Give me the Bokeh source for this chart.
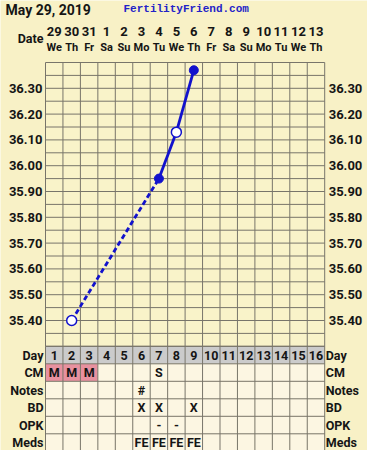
from bokeh.plotting import figure
from bokeh.models import Range1d
from bokeh.core.properties import value
from bokeh.embed import file_html
from bokeh.resources import INLINE

# ---------------- data ----------------
title_text = "May 29, 2019"
site_text = "FertilityFriend.com"
day_numbers = list(range(1, 17))
date_labels = ["29", "30", "31", "1", "2", "3", "4", "5", "6", "7", "8", "9", "10", "11", "12", "13"]
weekday_labels = ["We", "Th", "Fr", "Sa", "Su", "Mo", "Tu", "We", "Th", "Fr", "Sa", "Su", "Mo", "Tu", "We", "Th"]
temp_days = [2, 7, 8, 9]
temp_values = [35.40, 35.95, 36.13, 36.37]
temp_open = [True, False, True, False]
temp_ticks = [35.40, 35.50, 35.60, 35.70, 35.80, 35.90, 36.00, 36.10, 36.20, 36.30]
row_names = ["Day", "CM", "Notes", "BD", "OPK", "Meds"]
cm_values = ["M", "M", "M", "", "", "", "S", "", "", "", "", "", "", "", "", ""]
cm_colored = [True, True, True] + [False] * 13
notes_values = ["", "", "", "", "", "#", "", "", "", "", "", "", "", "", "", ""]
bd_values = ["", "", "", "", "", "X", "X", "", "X", "", "", "", "", "", "", ""]
opk_values = ["", "", "", "", "", "", "-", "-", "", "", "", "", "", "", "", ""]
meds_values = ["", "", "", "", "", "FE", "FE", "FE", "FE", "", "", "", "", "", "", ""]

# ---------------- layout ----------------
W, H = 367, 450
COL = 17.45      # px per day
PPU = 258.0      # px per degree
ROW = 17.5       # px per table row
GL = 45          # grid left (figure px)
GT = 62          # grid top (figure px)
T_TOP, T_BOT = 36.40, 35.30
TBL_TOP = GT + (T_TOP - T_BOT) * PPU

BG = "#f8f1c6"
PLOT_BG = "#f9f3c9"
CELL_BG = "#fcf6e2"
DAY_BG = "#cbcbcb"
PINK = "#e8919f"
GRID = "#78756a"
BLUE = "#1212cc"
TXT = "#151515"
FONT = value("Roboto")

x0 = 0.5 - GL / COL
p = figure(width=W, height=H, output_backend="svg", toolbar_location=None,
           x_range=Range1d(x0, x0 + W / COL),
           y_range=Range1d(T_TOP - (H - GT) / PPU, T_TOP + GT / PPU),
           min_border=0, outline_line_color=None)
p.extra_y_ranges = {"tbl": Range1d(start=(H - TBL_TOP) / ROW, end=-TBL_TOP / ROW)}
p.axis.visible = False
p.grid.visible = False
p.background_fill_color = BG
p.border_fill_color = BG


def dx(px):
    return px / COL


def hv(fig_py):
    return (fig_py - TBL_TOP) / ROW


first, last = day_numbers[0] - 0.5, day_numbers[-1] + 0.5

# temperature area background
p.quad(left=[first], right=[last], bottom=[T_BOT], top=[T_TOP], fill_color=PLOT_BG, line_color=None)

# table cells
cx, cy, cc = [], [], []
for r in range(len(row_names)):
    for i, d in enumerate(day_numbers):
        cx.append(d)
        cy.append(r + 0.5)
        if r == 0:
            cc.append(DAY_BG)
        elif r == 1 and cm_colored[i]:
            cc.append(PINK)
        else:
            cc.append(CELL_BG)
p.rect(x=cx, y=cy, width=1, height=1, fill_color=cc, line_color=None, y_range_name="tbl")

# grid lines: temperature area
nh = int(round((T_TOP - T_BOT) / 0.05))
hy = [T_BOT + 0.05 * k for k in range(nh + 1)]
p.segment(x0=[first] * len(hy), x1=[last] * len(hy), y0=hy, y1=hy, line_color=GRID, line_width=1)
vx = [d - 0.5 for d in day_numbers] + [last]
p.segment(x0=vx, x1=vx, y0=[T_BOT] * len(vx), y1=[T_TOP] * len(vx), line_color=GRID, line_width=1)
# grid lines: table
ty = list(range(len(row_names) + 1))
p.segment(x0=[first] * len(ty), x1=[last] * len(ty), y0=ty, y1=ty, line_color=GRID, line_width=1, y_range_name="tbl")
p.segment(x0=vx, x1=vx, y0=[0] * len(vx), y1=[len(row_names)] * len(vx), line_color=GRID, line_width=1, y_range_name="tbl")

# temperature line: solid between consecutive days, dashed across gaps
for i in range(len(temp_days) - 1):
    dash = "solid" if temp_days[i + 1] - temp_days[i] == 1 else "5 3"
    p.line(x=temp_days[i:i + 2], y=temp_values[i:i + 2], line_color=BLUE, line_width=2.8, line_dash=dash)

fx = [d for d, o in zip(temp_days, temp_open) if not o]
fy = [t for t, o in zip(temp_values, temp_open) if not o]
ox = [d for d, o in zip(temp_days, temp_open) if o]
oy = [t for t, o in zip(temp_values, temp_open) if o]
p.scatter(x=fx, y=fy, size=9, marker="circle", fill_color=BLUE, line_color=BLUE)
p.scatter(x=ox, y=oy, size=10, marker="circle", fill_color="white", line_color=BLUE, line_width=1.5)

# temperature labels left and right
tl = ["%.2f" % t for t in temp_ticks]
p.text(x=[first - dx(3)] * len(tl), y=temp_ticks, text=tl, text_align="right", text_baseline="middle",
       text_font=FONT, text_font_style="bold", text_font_size="13px", text_color=TXT)
p.text(x=[last + dx(4)] * len(tl), y=temp_ticks, text=tl, text_align="left", text_baseline="middle",
       text_font=FONT, text_font_style="bold", text_font_size="13px", text_color=TXT)

# header
p.text(x=[x0 + dx(5)], y=[hv(9)], text=[title_text], text_align="left", text_baseline="middle",
       text_font=FONT, text_font_style="bold", text_font_size="14px", text_color=TXT, y_range_name="tbl")
p.text(x=[x0 + dx(123)], y=[hv(8)], text=[site_text], text_align="left", text_baseline="middle",
       text_font=value("Liberation Mono"), text_font_style="bold", text_font_size="11px",
       text_color="#2323c8", y_range_name="tbl")
p.text(x=[first - dx(2)], y=[hv(38)], text=["Date"], text_align="right", text_baseline="middle",
       text_font=FONT, text_font_style="bold", text_font_size="12.5px", text_color=TXT, y_range_name="tbl")
p.text(x=day_numbers, y=[hv(31)] * len(day_numbers), text=date_labels, text_align="center",
       text_baseline="middle", text_font=FONT, text_font_style="bold", text_font_size="13px",
       text_color=TXT, y_range_name="tbl")
p.text(x=day_numbers, y=[hv(47)] * len(day_numbers), text=weekday_labels, text_align="center",
       text_baseline="middle", text_font=FONT, text_font_style="bold", text_font_size="11px",
       text_color=TXT, y_range_name="tbl")

# table texts
rows_vals = [[str(d) for d in day_numbers], cm_values, notes_values, bd_values, opk_values, meds_values]
tx, tyy, tt = [], [], []
for r, vals in enumerate(rows_vals):
    for d, v in zip(day_numbers, vals):
        if v:
            tx.append(d)
            tyy.append(r + 0.5)
            tt.append(v)
p.text(x=tx, y=tyy, text=tt, text_align="center", text_baseline="middle", text_font=FONT,
       text_font_style="bold", text_font_size="12.5px", text_color=TXT, y_range_name="tbl")

ry = [r + 0.5 for r in range(len(row_names))]
p.text(x=[first - dx(2)] * len(row_names), y=ry, text=row_names, text_align="right", text_baseline="middle",
       text_font=FONT, text_font_style="bold", text_font_size="12.5px", text_color=TXT, y_range_name="tbl")
p.text(x=[last + dx(1)] * len(row_names), y=ry, text=row_names, text_align="left", text_baseline="middle",
       text_font=FONT, text_font_style="bold", text_font_size="12.5px", text_color=TXT, y_range_name="tbl")

open("out.html", "w").write(file_html(p, INLINE))
